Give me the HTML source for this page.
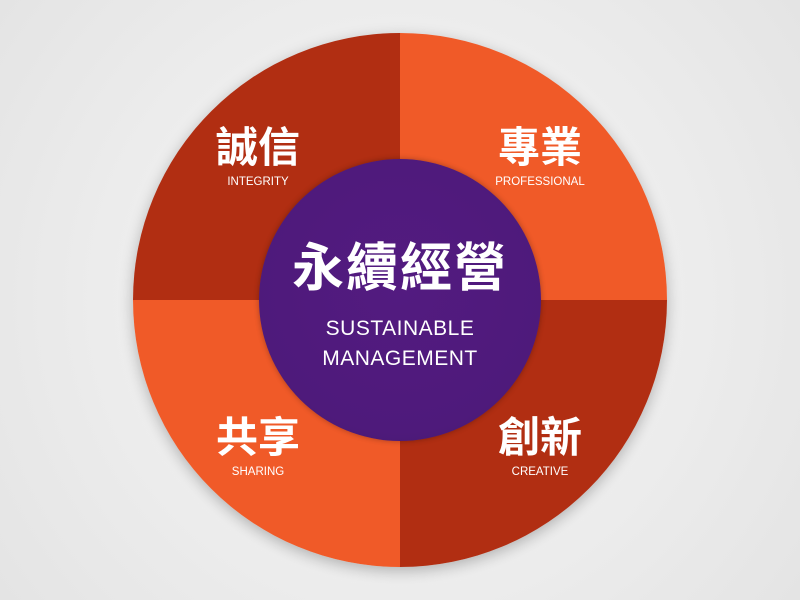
<!DOCTYPE html>
<html><head><meta charset="utf-8"><style>
body{margin:0;width:800px;height:600px;overflow:hidden;background:radial-gradient(circle at 400px 300px,#f8f8f8 0,#ececec 60%,#e4e4e4 100%);font-family:"Liberation Sans","Noto Sans CJK TC",sans-serif;}
.c{position:absolute;left:133px;top:33px;width:534px;height:534px;border-radius:50%;overflow:hidden;box-shadow:0 4px 14px rgba(0,0,0,.25);}
.q{position:absolute;width:267px;height:267px;}
.in{position:absolute;left:259px;top:159px;width:282px;height:282px;border-radius:50%;background:radial-gradient(circle at 50% 45%,#531b80 0,#4e1a7b 70%,#3f1565 100%);box-shadow:0 0 6px rgba(0,0,0,.3);}
.t{position:absolute;color:#fff;text-align:center;font-weight:bold;width:200px;}
.s{position:absolute;color:#fff;text-align:center;font-size:11.5px;width:200px;}
</style></head><body>
<div class="c">
<div class="q" style="left:0;top:0;background:#b12e12"></div>
<div class="q" style="left:267px;top:0;background:#f05a28"></div>
<div class="q" style="left:0;top:267px;background:#f05a28"></div>
<div class="q" style="left:267px;top:267px;background:#b12e12"></div>
</div>
<div class="in"></div>
<div class="t" style="left:158px;top:114px;font-size:42px">誠信</div>
<div class="s" style="left:158px;top:176px">INTEGRITY</div>
<div class="t" style="left:440px;top:114px;font-size:42px">專業</div>
<div class="s" style="left:440px;top:176px">PROFESSIONAL</div>
<div class="t" style="left:158px;top:404px;font-size:42px">共享</div>
<div class="s" style="left:158px;top:466px">SHARING</div>
<div class="t" style="left:440px;top:404px;font-size:42px">創新</div>
<div class="s" style="left:440px;top:466px">CREATIVE</div>
<div class="t" style="left:250px;top:226px;width:300px;font-size:52px;letter-spacing:2px">永續經營</div>
<div class="s" style="left:250px;top:314px;width:300px;font-size:21px;line-height:30px;letter-spacing:0.5px">SUSTAINABLE<br>MANAGEMENT</div>
</body></html>
